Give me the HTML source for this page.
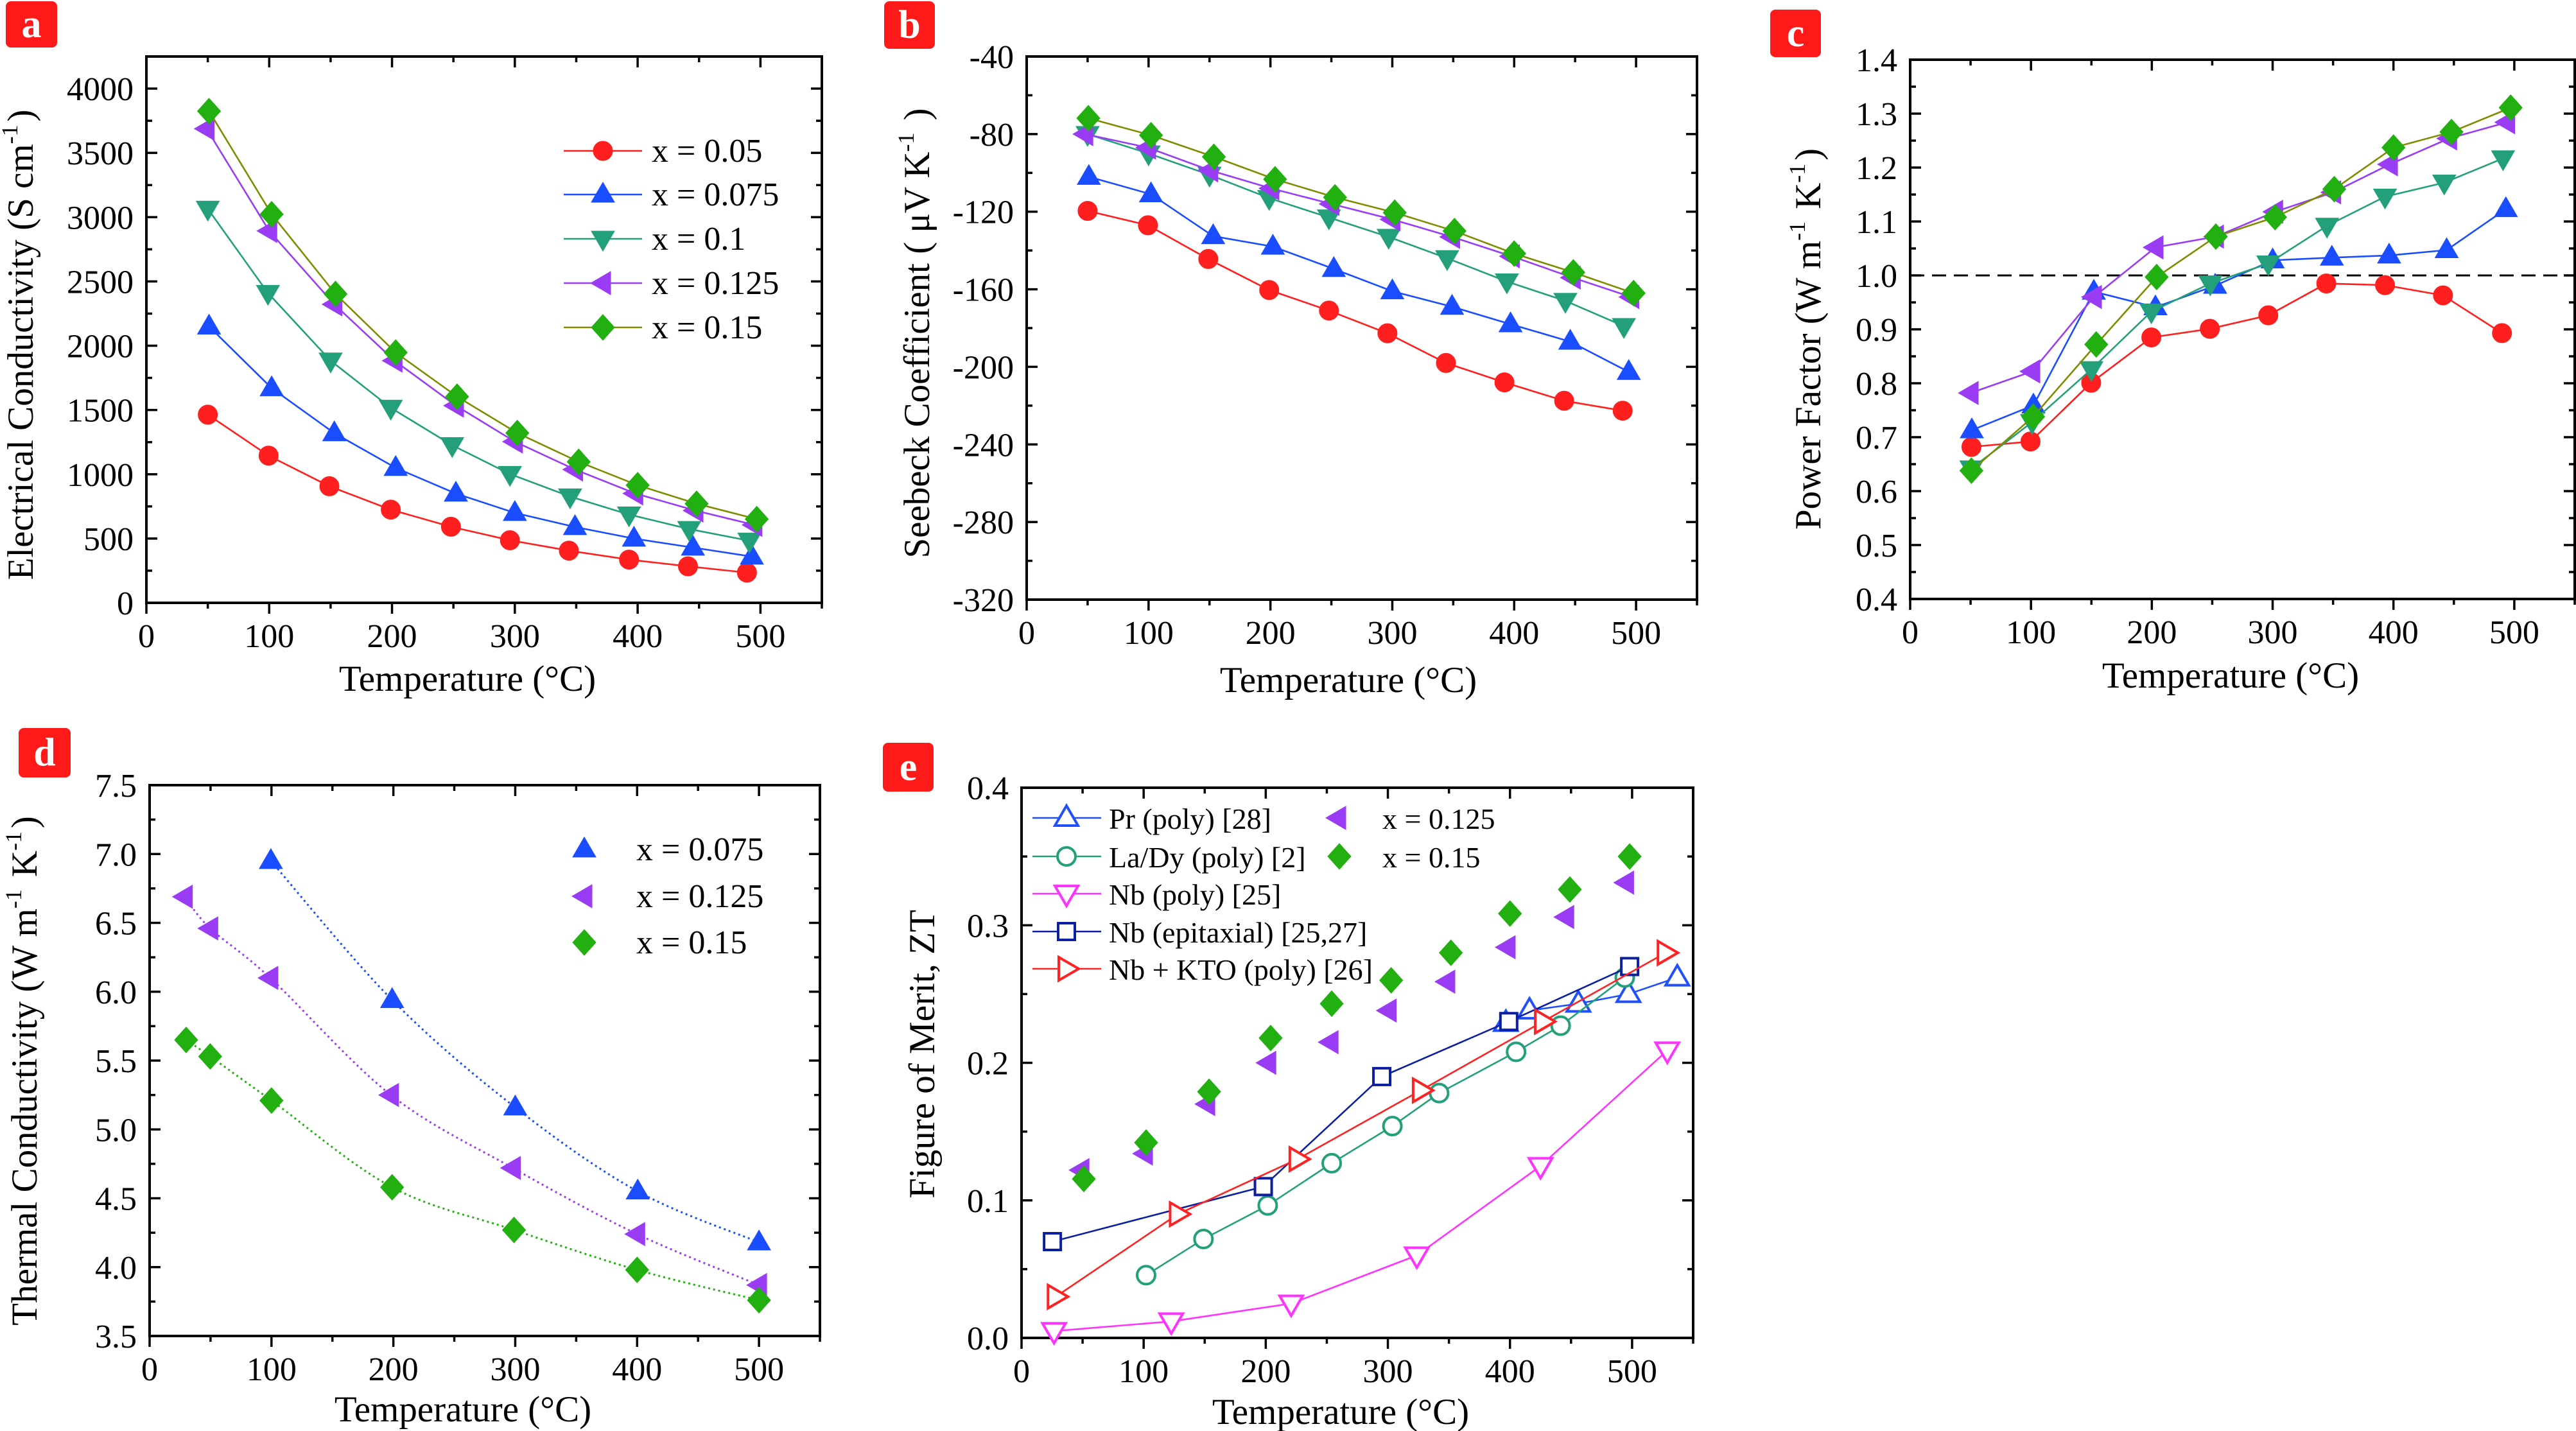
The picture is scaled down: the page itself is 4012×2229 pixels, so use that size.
<!DOCTYPE html>
<html><head><meta charset="utf-8"><style>
html,body{margin:0;padding:0;background:#fff;}
svg{display:block;font-family:"Liberation Serif",serif;}
</style></head><body>
<svg id="fig" width="4012" height="2229" viewBox="0 0 4012 2229" xmlns="http://www.w3.org/2000/svg"></svg>
<script>
// ---------- DATA ----------
const aX005=[50,99.5,149,199,248,296,344,393,441,489];
const aY005=[1464,1145,907,725,592,487,406,336,284,235];
const aX0075=[51,102,153,203,252,300,349,397,445,493];
const aY0075=[2150,1670,1320,1050,850,700,590,500,430,360];
const aX01=[50,99,150,199,249,296,345,393,442,491];
const aY01=[3065,2410,1884,1517,1226,1002,827,687,574,483];
const aX0125=[49,100,153,202,252,300,349,398,447,495];
const aY0125=[3688,2893,2322,1884,1534,1254,1037,851,718,606];
const aX015=[51,102,154,203,253,302,352,400,448,497];
const aY015=[3825,3023,2403,1947,1604,1321,1097,915,771,651];
const bX005=[50,99.5,149,199,248,296,344,392,441,489];
const bY005=[-119.6,-127,-144.4,-160.4,-171,-182.7,-198,-208,-217.5,-222.6];
const bX0075=[51,102,153,202,252,300,349,397,446,494];
const bY0075=[-102,-111,-132.6,-138,-149.5,-161,-169,-178,-187,-202.6];
const bX01=[50,100,150,199,248,297,345,394,442,490];
const bY01=[-80,-90,-101,-113,-123,-133,-144,-156,-166,-179];
const bX0125=[48,99.5,150.5,200.7,250,300,349,398,448,496];
const bY0125=[-80,-87,-98.7,-108,-116,-124,-133,-143,-154,-164];
const bX015=[50.6,102,153.6,203.8,253,302,351,400,448.5,498];
const bY015=[-71.8,-80.6,-91.7,-103.3,-112.6,-120.5,-130,-141.6,-151.3,-162];
const cX005=[50.7,99.6,149.8,199.6,248,296.4,344.4,393,441,489.8];
const cY005=[0.682,0.692,0.801,0.885,0.901,0.926,0.985,0.982,0.963,0.893];
const cX0075=[51,102,152,203,252.4,300,349,396.4,444,493];
const cY0075=[0.713,0.759,0.970,0.941,0.981,1.028,1.033,1.037,1.047,1.123];
const cX01=[50.7,100.9,150,199.6,248.4,296.4,345,393,442,490.7];
const cY01=[0.642,0.728,0.826,0.933,0.985,1.022,1.092,1.146,1.172,1.217];
const cX0125=[50,101,152,203,253,302,350,397,446,494];
const cY0125=[0.782,0.822,0.960,1.052,1.072,1.118,1.154,1.206,1.254,1.284];
const cX015=[50.7,101.8,154,204,253,302,351,400,448,497];
const cY015=[0.638,0.738,0.872,0.997,1.072,1.108,1.160,1.237,1.266,1.311];
const dX0075=[99.5,199,300,400.5,500];
const dY0075=[6.95,5.94,5.16,4.55,4.18];
const dX0125=[28.8,49.7,99,198,298,400,500];
const dY0125=[6.69,6.46,6.10,5.25,4.72,4.24,3.87];
const dX015=[30,49.7,100,199,299,400,500];
const dY015=[5.65,5.53,5.21,4.58,4.27,3.98,3.76];
const ePrX=[396.6,416,456,497,537];
const ePrY=[0.229,0.238,0.243,0.250,0.262];
const eLaX=[102,149,201.6,254,303.7,342,405,441.5,494];
const eLaY=[0.0456,0.0719,0.0963,0.127,0.154,0.178,0.208,0.227,0.262];
const eNbX=[26.6,122.6,220.8,323.7,425,528.8];
const eNbY=[0.005,0.012,0.025,0.060,0.125,0.209];
const eEpX=[25.3,198,295,399,498];
const eEpY=[0.070,0.110,0.190,0.230,0.270];
const eKtoX=[28,128,226,327,427,527.5];
const eKtoY=[0.030,0.090,0.130,0.180,0.230,0.280];
const e0125X=[49,101,152,202,253,300.6,348.6,398,446,495];
const e0125Y=[0.122,0.134,0.170,0.200,0.215,0.238,0.259,0.284,0.306,0.331];
const e015X=[51,102,153.6,204,254,302.7,351.6,400,449,498];
const e015Y=[0.1156,0.142,0.179,0.218,0.243,0.260,0.280,0.3085,0.326,0.350];
const xTickLabels=["0","100","200","300","400","500"];
const aTickLabels=["0","500","1000","1500","2000","2500","3000","3500","4000"];
const bTickLabels=["-320","-280","-240","-200","-160","-120","-80","-40"];
const cTickLabels=["0.4","0.5","0.6","0.7","0.8","0.9","1.0","1.1","1.2","1.3","1.4"];
const dTickLabels=["3.5","4.0","4.5","5.0","5.5","6.0","6.5","7.0","7.5"];
const eTickLabels=["0.0","0.1","0.2","0.3","0.4"];

// ---------- DRAWING ----------
const NS="http://www.w3.org/2000/svg";
const svg=document.getElementById('fig');
function mk(tag,attrs,parent){const e=document.createElementNS(NS,tag);for(const k in attrs)e.setAttribute(k,attrs[k]);(parent||svg).appendChild(e);return e;}

const RED='#ff1f1f',BLUE='#1a4dff',TEAL='#23a07a',PURP='#9b3cf5',GREEN='#22b011',OLIVE='#7f8c00';

function makePanel(L,R,T,B,xmin,xmax,ymin,ymax){
  return {L,R,T,B,sx:v=>L+(v-xmin)/(xmax-xmin)*(R-L),sy:v=>B-(v-ymin)/(ymax-ymin)*(B-T)};
}
function axes(g,p,xMaj,xMin,yVals,yLabels,yMinorStep,ymin,ymax){
  const fr=mk('rect',{x:p.L,y:p.T,width:p.R-p.L,height:p.B-p.T,fill:'none',stroke:'#000','stroke-width':4},g);
  
  
  for(let v=0;v<=550;v+=50){
    const x=p.sx(v);const maj=(v%100===0);const l=maj?17:9;
    const t1=mk('line',{x1:x,y1:p.B,x2:x,y2:p.B+l,stroke:'#000','stroke-width':3.5},g);
    
    
    const t2=mk('line',{x1:x,y1:p.T,x2:x,y2:p.T+l,stroke:'#000','stroke-width':3.5},g);
    
    
  }
  xTickLabels.forEach((s,i)=>{
    const t=mk('text',{x:p.sx(i*100),y:p.B+69,'font-size':52,'text-anchor':'middle'},g);t.textContent=s;
    
    
  });
  for(let v=ymin;v<=ymax+1e-9;v+=yMinorStep){
    const y=p.sy(v);
    const isMaj=yVals.some(m=>Math.abs(m-v)<1e-6);const l=isMaj?17:9;
    const t1=mk('line',{x1:p.L,y1:y,x2:p.L+l,y2:y,stroke:'#000','stroke-width':3.5},g);
    
    
    const t2=mk('line',{x1:p.R,y1:y,x2:p.R-l,y2:y,stroke:'#000','stroke-width':3.5},g);
    
    
  }
  yVals.forEach((v,i)=>{
    const t=mk('text',{x:p.L-20,y:p.sy(v)+18,'font-size':52,'text-anchor':'end'},g);t.textContent=yLabels[i];
    
    
  });
}
function xTitle(g,cx,cy){
  const t=mk('text',{x:cx,y:cy+19,'font-size':57,'text-anchor':'middle'},g);
  t.textContent='Temperature (°C)';
  
  
}
function yTitle(g,cx,cy,main,sup1,mid,sup2,end){
  const t=mk('text',{x:0,y:0,'font-size':57,'text-anchor':'middle',transform:`translate(${cx+19},${cy}) rotate(-90)`},g);
  
  
  const add=(s,sup)=>{const ts=mk('tspan',sup?{'font-size':36,dy:-24}:{},t);ts.textContent=s;if(sup){const b=mk('tspan',{dy:24},t);b.textContent='\u200A';}};
  add(main,false);
  if(sup1){add(sup1,true);}
  if(mid){add(mid,false);}
  if(sup2){add(sup2,true);}
  if(end){add(end,false);}
}
function badge(g,x,y,w,h,letter){
  const r=mk('rect',{x,y,width:w,height:h,rx:8,fill:'#ff1a1a'},g);
  
  
  const t=mk('text',{x:x+w/2,y:y+h/2+20,'font-size':62,'font-weight':'bold',fill:'#fff','text-anchor':'middle'},g);
  t.textContent=letter;
  
  
}
function marker(g,shape,cx,cy,color,open){
  const fill=open?'#fff':color, st=open?{stroke:color,'stroke-width':4}:{stroke:color,'stroke-width':1};
  let e;
  const pts=a=>a.map(q=>(cx+q[0])+','+(cy+q[1])).join(' ');
  if(shape==='circle') e=mk('circle',Object.assign({cx,cy,r:open?14:15,fill},st),g);
  else if(shape==='up') e=mk('polygon',Object.assign({points:pts([[0,-19],[-18,12],[18,12]]),fill},st),g);
  else if(shape==='down') e=mk('polygon',Object.assign({points:pts([[0,19],[-18,-12],[18,-12]]),fill},st),g);
  else if(shape==='left') e=mk('polygon',Object.assign({points:pts([[-19,0],[12,-18],[12,18]]),fill},st),g);
  else if(shape==='right') e=mk('polygon',Object.assign({points:pts([[19,0],[-12,-18],[-12,18]]),fill},st),g);
  else if(shape==='diamond') e=mk('polygon',Object.assign({points:pts([[0,-20],[-18,0],[0,20],[18,0]]),fill},st),g);
  else if(shape==='square') e=mk('rect',Object.assign({x:cx-13,y:cy-13,width:26,height:26,fill},st),g);
  return e;
}
function series(g,p,xs,ys,shape,mcol,lcol,open,name,lineMode){
  const sg=mk('g',{},g);
  
  
  const P=xs.map((x,i)=>[p.sx(x),p.sy(ys[i])]);
  if(lineMode==='line'){
    const l=mk('polyline',{points:P.map(q=>q.join(',')).join(' '),fill:'none',stroke:lcol,'stroke-width':2.6},sg);
    
    
  } else if(lineMode==='dotted'){
    let d='M'+P[0][0]+','+P[0][1];
    for(let i=0;i<P.length-1;i++){
      const p0=P[Math.max(0,i-1)],p1=P[i],p2=P[i+1],p3=P[Math.min(P.length-1,i+2)];
      d+=` C${p1[0]+(p2[0]-p0[0])/6},${p1[1]+(p2[1]-p0[1])/6} ${p2[0]-(p3[0]-p1[0])/6},${p2[1]-(p3[1]-p1[1])/6} ${p2[0]},${p2[1]}`;
    }
    const l=mk('path',{d,fill:'none',stroke:lcol,'stroke-width':3,'stroke-dasharray':'3,5'},sg);
    
    
  }
  P.forEach(q=>{
    const m=marker(sg,shape,q[0],q[1],mcol,open);
    
    
  });
}
function legendRow(g,lx1,lx2,mx,tx,y,shape,mcol,lcol,open,label,fs){
  if(lx1!==null){
    const l=mk('line',{x1:lx1,y1:y,x2:lx2,y2:y,stroke:lcol,'stroke-width':2.6},g);
    
    
  }
  const m=marker(g,shape,mx,y,mcol,open);
  
  
  const t=mk('text',{x:tx,y:y+17,'font-size':fs},g);t.textContent=label;
  
  
}
const rng=(a,b,s)=>{const r=[];for(let v=a;v<=b+1e-9;v+=s)r.push(+v.toFixed(4));return r;};

// ---- Panel a ----
{const g=mk('g',{});
const p=makePanel(228,1280,88,939,0,550,0,4250);
badge(g,9,2,80,72,'a');
axes(g,p,100,50,rng(0,4000,500),aTickLabels,250,0,4250);
series(g,p,aX005,aY005,'circle',RED,RED,false,'series-a-x0.05','line');
series(g,p,aX0075,aY0075,'up',BLUE,BLUE,false,'series-a-x0.075','line');
series(g,p,aX01,aY01,'down',TEAL,TEAL,false,'series-a-x0.1','line');
series(g,p,aX0125,aY0125,'left',PURP,PURP,false,'series-a-x0.125','line');
series(g,p,aX015,aY015,'diamond',GREEN,OLIVE,false,'series-a-x0.15','line');
const lg=mk('g',{},g);
legendRow(lg,878,1000,939,1015,235,'circle',RED,RED,false,'x = 0.05',52);
legendRow(lg,878,1000,939,1015,303,'up',BLUE,BLUE,false,'x = 0.075',52);
legendRow(lg,878,1000,939,1015,372,'down',TEAL,TEAL,false,'x = 0.1',52);
legendRow(lg,878,1000,939,1015,441,'left',PURP,PURP,false,'x = 0.125',52);
legendRow(lg,878,1000,939,1015,510,'diamond',GREEN,OLIVE,false,'x = 0.15',52);
xTitle(g,728,1057);
yTitle(g,32,537,'Electrical Conductivity (S cm','-1',')');}

// ---- Panel b ----
{const g=mk('g',{});
const p=makePanel(1599,2643,88,934,0,550,-320,-40);
badge(g,1377,2,79,74,'b');
axes(g,p,100,50,rng(-320,-40,40),bTickLabels,20,-320,-40);
series(g,p,bX005,bY005,'circle',RED,RED,false,'series-b-x0.05','line');
series(g,p,bX0075,bY0075,'up',BLUE,BLUE,false,'series-b-x0.075','line');
series(g,p,bX01,bY01,'down',TEAL,TEAL,false,'series-b-x0.1','line');
series(g,p,bX0125,bY0125,'left',PURP,PURP,false,'series-b-x0.125','line');
series(g,p,bX015,bY015,'diamond',GREEN,OLIVE,false,'series-b-x0.15','line');
xTitle(g,2100,1059);
yTitle(g,1428,519,'Seebeck Coefficient ( μV K','-1',' )');}

// ---- Panel c ----
{const g=mk('g',{});
const p=makePanel(2975,4010,93,933,0,550,0.4,1.4);
badge(g,2757,15,79,74,'c');
axes(g,p,100,50,rng(0.4,1.4,0.1),cTickLabels,0.05,0.4,1.4);
const dl=mk('line',{x1:p.L,y1:p.sy(1.0),x2:p.R,y2:p.sy(1.0),stroke:'#000','stroke-width':3,'stroke-dasharray':'22,12'},g);


series(g,p,cX005,cY005,'circle',RED,RED,false,'series-c-x0.05','line');
series(g,p,cX0075,cY0075,'up',BLUE,BLUE,false,'series-c-x0.075','line');
series(g,p,cX01,cY01,'down',TEAL,TEAL,false,'series-c-x0.1','line');
series(g,p,cX0125,cY0125,'left',PURP,PURP,false,'series-c-x0.125','line');
series(g,p,cX015,cY015,'diamond',GREEN,OLIVE,false,'series-c-x0.15','line');
xTitle(g,3474,1052);
yTitle(g,2816,528,'Power Factor (W m','-1',' K','-1',')');}

// ---- Panel d ----
{const g=mk('g',{});
const p=makePanel(233,1277,1223,2081,0,550,3.5,7.5);
badge(g,29,1134,81,77,'d');
axes(g,p,100,50,rng(3.5,7.5,0.5),dTickLabels,0.25,3.5,7.5);
series(g,p,dX0075,dY0075,'up',BLUE,BLUE,false,'series-d-x0.075','dotted');
series(g,p,dX0125,dY0125,'left',PURP,PURP,false,'series-d-x0.125','dotted');
series(g,p,dX015,dY015,'diamond',GREEN,GREEN,false,'series-d-x0.15','dotted');
const lg=mk('g',{},g);
legendRow(lg,null,null,910,991,1323,'up',BLUE,BLUE,false,'x = 0.075',52);
legendRow(lg,null,null,910,991,1396,'left',PURP,PURP,false,'x = 0.125',52);
legendRow(lg,null,null,910,991,1468,'diamond',GREEN,GREEN,false,'x = 0.15',52);
xTitle(g,721,2195);
yTitle(g,38,1668,'Thermal Conductivity (W m','-1',' K','-1',')');}

// ---- Panel e ----
{const g=mk('g',{});
const p=makePanel(1591,2637,1227,2084,0,550,0,0.4);
badge(g,1375,1157,79,76,'e');
axes(g,p,100,50,rng(0,0.4,0.1),eTickLabels,0.05,0,0.4);
const PRB='#1f4fff',LAT='#23a07a',NBM='#ff33ff',EPN='#0b1fa0',KTR='#ff2222';
series(g,p,ePrX,ePrY,'up',PRB,PRB,true,'series-e-pr-poly','line');
series(g,p,eLaX,eLaY,'circle',LAT,LAT,true,'series-e-la-dy-poly','line');
series(g,p,eNbX,eNbY,'down',NBM,NBM,true,'series-e-nb-poly','line');
series(g,p,eEpX,eEpY,'square',EPN,EPN,true,'series-e-nb-epitaxial','line');
series(g,p,eKtoX,eKtoY,'right',KTR,KTR,true,'series-e-nb-kto-poly','line');
series(g,p,e0125X,e0125Y,'left',PURP,PURP,false,'series-e-x0.125','none');
series(g,p,e015X,e015Y,'diamond',GREEN,GREEN,false,'series-e-x0.15','none');
const lg=mk('g',{},g);
legendRow(lg,1608,1715,1661,1727,1274,'up',PRB,PRB,true,'Pr (poly) [28]',46);
legendRow(lg,1608,1715,1661,1727,1334,'circle',LAT,LAT,true,'La/Dy (poly) [2]',46);
legendRow(lg,1608,1715,1661,1727,1392,'down',NBM,NBM,true,'Nb (poly) [25]',46);
legendRow(lg,1608,1715,1661,1727,1451,'square',EPN,EPN,true,'Nb (epitaxial) [25,27]',46);
legendRow(lg,1608,1715,1661,1727,1509,'right',KTR,KTR,true,'Nb + KTO (poly) [26]',46);
legendRow(lg,null,null,2084,2153,1274,'left',PURP,PURP,false,'x = 0.125',46);
legendRow(lg,null,null,2086,2153,1334,'diamond',GREEN,GREEN,false,'x = 0.15',46);
xTitle(g,2088,2199);
yTitle(g,1436,1642,'Figure of Merit, ZT');}
</script>
</body></html>
